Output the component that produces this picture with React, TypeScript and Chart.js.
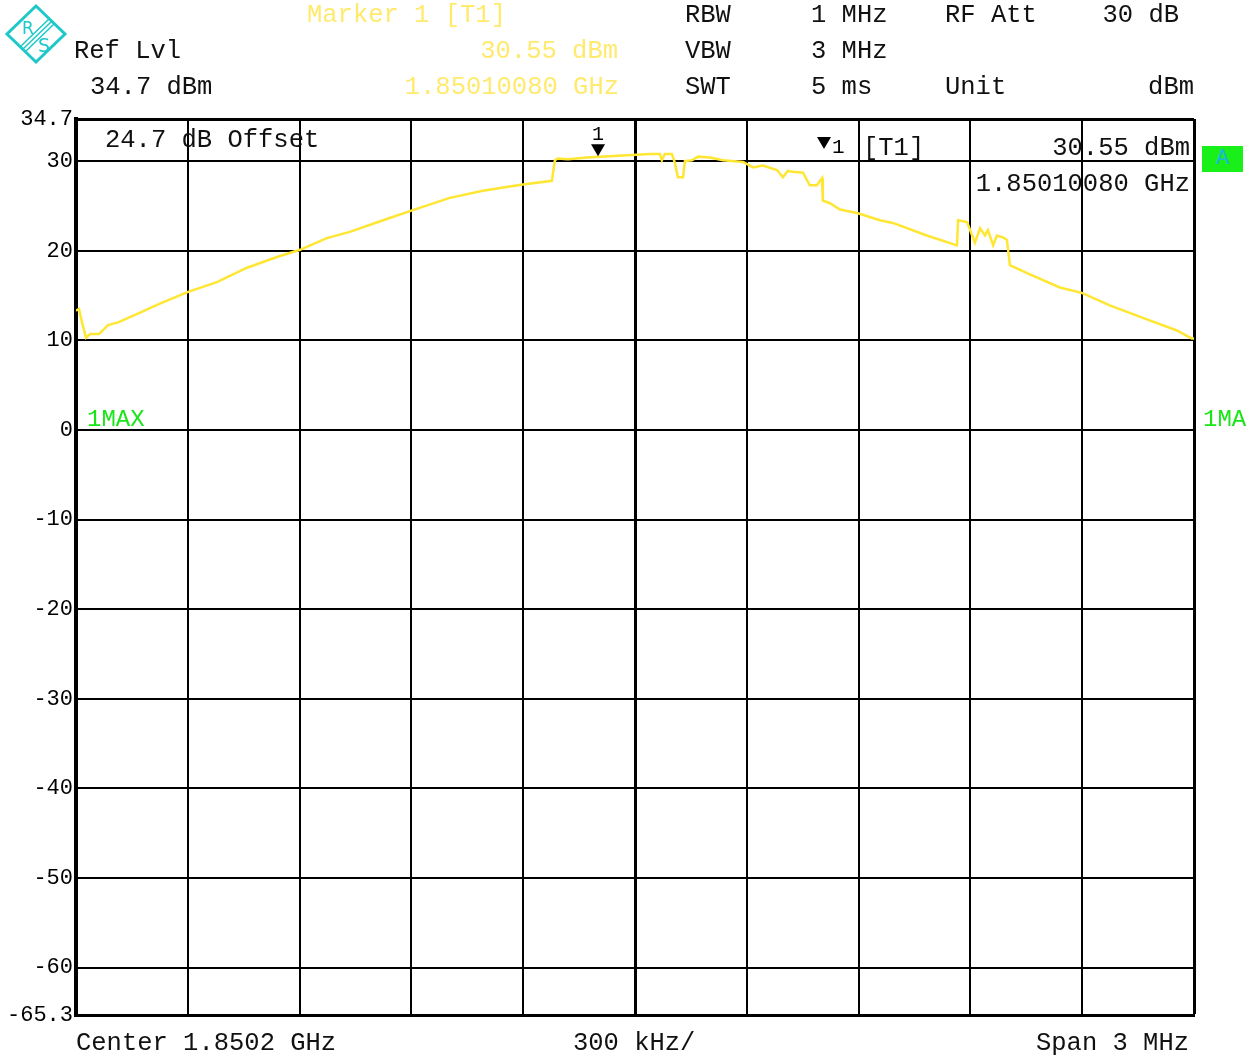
import React, { useEffect, useRef } from "react";
import { Chart, registerables } from "chart.js";

Chart.register(...registerables);

// Frequency offset from center (kHz), center 1.8502 GHz, span 3 MHz
const freqKHz = [
  -1500, -1492, -1484, -1473, -1462, -1438, -1414, -1387, -1328, -1275, -1199, -1122, -1041, -961, -899, -827,
  -765, -676, -598, -497, -408, -362, -301, -223, -215, -207, -180, -129, -94, 40, 67, 72, 80, 99, 107, 115,
  129, 134, 153, 169, 201, 236, 290, 317, 343, 381, 397, 410, 424, 451, 469, 488, 502, 504, 523, 550, 596,
  657, 692, 783, 864, 867, 891, 912, 926, 939, 947, 961, 971, 987, 998, 1006, 1052, 1140, 1199, 1274, 1363,
  1454, 1494, 1500,
];
// Trace level (dBm)
const levelDbm = [
  13.3, 13.5, 12.0, 10.3, 10.7, 10.7, 11.7, 12.0, 13.1, 14.1, 15.4, 16.5, 18.1, 19.3, 20.1, 21.4,
  22.1, 23.4, 24.5, 25.9, 26.7, 27.0, 27.4, 27.8, 30.1, 30.3, 30.2, 30.4, 30.5, 30.8, 30.8, 30.1, 30.8, 30.8, 29.8, 28.2,
  28.2, 30.0, 30.1, 30.5, 30.4, 30.1, 29.9, 29.3, 29.5, 29.0, 28.2, 28.9, 28.8, 28.7, 27.3, 27.3, 28.1, 25.6, 25.3, 24.6, 24.2,
  23.4, 23.1, 21.7, 20.6, 23.4, 23.2, 20.9, 22.5, 21.7, 22.3, 20.6, 21.7, 21.5, 21.2, 18.4, 17.5, 15.9, 15.3, 13.9, 12.5,
  11.1, 10.2, 10.2,
];
const yTicks = [34.7, 30, 20, 10, 0, -10, -20, -30, -40, -50, -60, -65.3];
const yMin = -65.3;
const yMax = 34.7;
const xMin = -1500;
const xMax = 1500;
const xStep = 300;
const markerFreq = -99.2;
const markerLevel = 30.55;

const FONT = "'Liberation Mono', 'DejaVu Sans Mono', monospace";
const YELLOW = "#FFE633";
const TEXT_YELLOW = "#FFEA6E";

const markerPlugin = {
  id: "markerPlugin",
  afterDatasetsDraw(chart: any) {
    const { ctx, scales } = chart;
    const px = scales.x.getPixelForValue(markerFreq);
    const py = scales.y.getPixelForValue(markerLevel);
    ctx.save();
    ctx.fillStyle = "#000";
    ctx.beginPath();
    ctx.moveTo(px - 7, py - 12);
    ctx.lineTo(px + 7, py - 12);
    ctx.lineTo(px, py);
    ctx.closePath();
    ctx.fill();
    ctx.font = `20px ${FONT}`;
    ctx.textAlign = "center";
    ctx.textBaseline = "alphabetic";
    ctx.fillText("1", px, py - 16);
    ctx.restore();
  },
};

type T = { text: string; x?: number; right?: number; top: number; color?: string; size?: number };

const labels: T[] = [
  { text: "Ref Lvl", x: 74, top: 38.5 },
  { text: "34.7 dBm", x: 90, top: 74.5 },
  { text: "Marker 1 [T1]", x: 307, top: 2.5, color: TEXT_YELLOW },
  { text: "30.55 dBm", right: 618, top: 38.5, color: TEXT_YELLOW },
  { text: "1.85010080 GHz", right: 619, top: 74.5, color: TEXT_YELLOW },
  { text: "RBW", x: 685, top: 2.5 },
  { text: "VBW", x: 685, top: 38.5 },
  { text: "SWT", x: 685, top: 74.5 },
  { text: "1 MHz", x: 811, top: 2.5 },
  { text: "3 MHz", x: 811, top: 38.5 },
  { text: "5 ms", x: 811, top: 74.5 },
  { text: "RF Att", x: 945, top: 2.5 },
  { text: "30 dB", right: 1179, top: 2.5 },
  { text: "Unit", x: 945, top: 74.5 },
  { text: "dBm", right: 1194, top: 74.5 },
  { text: "24.7 dB Offset", x: 105, top: 127.5 },
  { text: "[T1]", x: 863, top: 135.5 },
  { text: "30.55 dBm", right: 1190, top: 135.5 },
  { text: "1.85010080 GHz", right: 1190, top: 171.5 },
  { text: "1MAX", x: 87, top: 407.5, color: "#19E619", size: 24 },
  { text: "1MA", x: 1203, top: 407.5, color: "#19E619", size: 24 },
  { text: "Center 1.8502 GHz", x: 76, top: 1030.5 },
  { text: "300 kHz/", x: 573, top: 1030.5 },
  { text: "Span 3 MHz", right: 1189, top: 1030.5 },
];

export default function App() {
  const ref = useRef<HTMLCanvasElement | null>(null);

  useEffect(() => {
    if (!ref.current) return;
    const chart = new Chart(ref.current, {
      type: "line",
      data: {
        datasets: [
          {
            data: freqKHz.map((f, i) => ({ x: f, y: levelDbm[i] })),
            borderColor: YELLOW,
            borderWidth: 2.5,
            pointRadius: 0,
            tension: 0,
            fill: false,
          },
        ],
      },
      options: {
        responsive: false,
        animation: false,
        layout: { padding: { left: 0, right: 63, top: 119, bottom: 42 } },
        plugins: { legend: { display: false }, tooltip: { enabled: false } },
        scales: {
          x: {
            type: "linear",
            min: xMin,
            max: xMax,
            ticks: { stepSize: xStep, display: false },
            grid: {
              color: "#000",
              drawTicks: false,
              tickLength: 0,
              lineWidth: (c: any) => (c.tick && (c.tick.value === 0 || c.tick.value === xMax) ? 3 : 2),
            },
            border: { display: true, color: "#000", width: 3 },
            afterFit: (s: any) => {
              s.height = 0;
            },
          },
          y: {
            type: "linear",
            min: yMin,
            max: yMax,
            afterBuildTicks: (s: any) => {
              s.ticks = yTicks.map((v) => ({ value: v }));
            },
            ticks: {
              color: "#000",
              font: { family: FONT, size: 22 },
              padding: 3,
              callback: (v: any) => String(v),
            },
            grid: {
              color: "#000",
              drawTicks: false,
              tickLength: 0,
              lineWidth: (c: any) => (c.tick && c.tick.value === yMax ? 3 : 2),
            },
            border: { display: true, color: "#000", width: 4 },
            afterFit: (s: any) => {
              s.width = 76;
            },
          },
        },
      },
      plugins: [markerPlugin],
    } as any);
    return () => chart.destroy();
  }, []);

  return (
    <div style={{ position: "absolute", left: 0, top: 0, width: 1257, height: 1057, background: "#fff", overflow: "hidden" }}>
      <canvas ref={ref} width={1257} height={1057} style={{ position: "absolute", left: 0, top: 0, width: 1257, height: 1057 }} />
      <svg width={72} height={70} style={{ position: "absolute", left: 0, top: 0 }}>
        <polygon points="36,6 65,34 36,62 7,34" fill="none" stroke="#1EC8C8" strokeWidth={3} />
        <line x1={21} y1={46} x2={49} y2={19} stroke="#1EC8C8" strokeWidth={1.5} />
        <line x1={23.5} y1={48.5} x2={51.5} y2={21.5} stroke="#1EC8C8" strokeWidth={1.5} />
        <line x1={26} y1={51} x2={54} y2={24} stroke="#1EC8C8" strokeWidth={1.5} />
        <text x={28} y={34} fontSize={17} fill="#1EC8C8" fontFamily="DejaVu Sans" textAnchor="middle">R</text>
        <text x={44} y={52} fontSize={19} fill="#1EC8C8" fontFamily="DejaVu Sans" textAnchor="middle">S</text>
      </svg>
      <svg width={14} height={14} style={{ position: "absolute", left: 817, top: 136 }}>
        <polygon points="0,1 14,1 7,13" fill="#000" />
      </svg>
      <div style={{ position: "absolute", left: 832, top: 137, font: `21px ${FONT}`, lineHeight: "21px", color: "#000" }}>1</div>
      <div
        style={{
          position: "absolute",
          left: 1202,
          top: 146,
          width: 41,
          height: 26,
          background: "#19F019",
          color: "#1EB4DC",
          font: `22px ${FONT}`,
          lineHeight: "26px",
          textAlign: "center",
        }}
      >
        A
      </div>
      {labels.map((l, i) => (
        <div
          key={i}
          style={{
            position: "absolute",
            left: l.x !== undefined ? l.x : undefined,
            right: l.right !== undefined ? 1257 - l.right : undefined,
            top: l.top,
            color: l.color || "#111",
            font: `${l.size || 25.5}px ${FONT}`,
            lineHeight: `${l.size || 25.5}px`,
            whiteSpace: "pre",
          }}
        >
          {l.text}
        </div>
      ))}
    </div>
  );
}
